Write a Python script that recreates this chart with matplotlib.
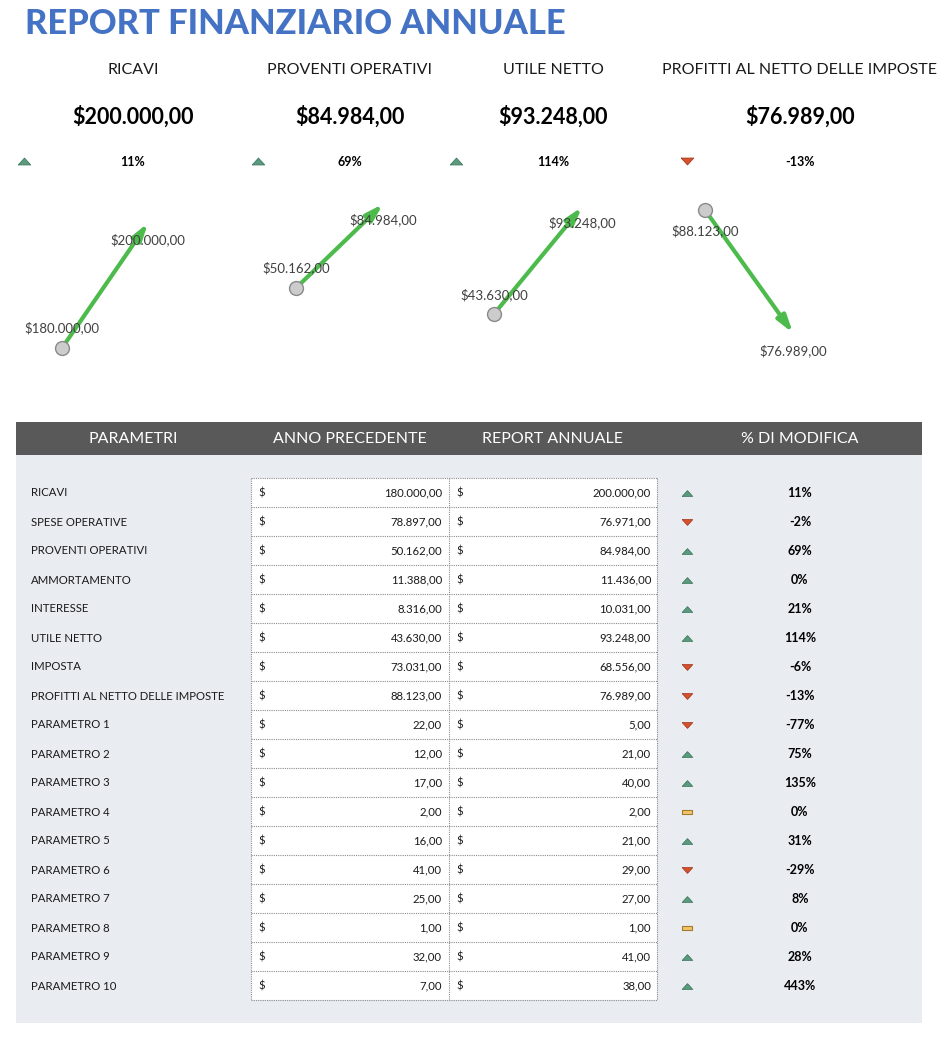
import numpy as np
import matplotlib.pyplot as plt
from matplotlib.patches import Rectangle

plt.rcParams['font.family'] = ['Lato', 'DejaVu Sans']

# ---- data ----
params = ['RICAVI', 'SPESE OPERATIVE', 'PROVENTI OPERATIVI', 'AMMORTAMENTO',
          'INTERESSE', 'UTILE NETTO', 'IMPOSTA', 'PROFITTI AL NETTO DELLE IMPOSTE',
          'PARAMETRO 1', 'PARAMETRO 2', 'PARAMETRO 3', 'PARAMETRO 4',
          'PARAMETRO 5', 'PARAMETRO 6', 'PARAMETRO 7', 'PARAMETRO 8',
          'PARAMETRO 9', 'PARAMETRO 10']
prev_year = [180000, 78897, 50162, 11388, 8316, 43630, 73031, 88123,
             22, 12, 17, 2, 16, 41, 25, 1, 32, 7]
this_year = [200000, 76971, 84984, 11436, 10031, 93248, 68556, 76989,
             5, 21, 40, 2, 21, 29, 27, 1, 41, 38]
kpi_rows = [0, 2, 5, 7]   # rows shown in the top summary
headers = ['PARAMETRI', 'ANNO PRECEDENTE', 'REPORT ANNUALE', '% DI MODIFICA']
title = 'REPORT FINANZIARIO ANNUALE'

W, H = 949, 1039
UP, DOWN, FLAT = '#5a9a7e', '#d8512d', '#f1c46b'
UP_M = [(-1, -0.55), (1, -0.55), (0, 0.55), (-1, -0.55)]
DOWN_M = [(-1, 0.55), (1, 0.55), (0, -0.55), (-1, 0.55)]
FLAT_M = [(-1, -0.45), (1, -0.45), (1, 0.45), (-1, 0.45), (-1, -0.45)]


def fmt(v):
    s = f'{v:,.2f}'
    return s.replace(',', 'X').replace('.', ',').replace('X', '.')


def change(p, c):
    return (c - p) / p


def box(x0, y0, x1, y1):
    return [x0 / W, 1 - y1 / H, (x1 - x0) / W, (y1 - y0) / H]


def icon(ax, x, y, p, c, size=8):
    if c > p:
        ax.plot(x, y, marker=UP_M, ms=size, mfc=UP, mec='#3f7a60', mew=0.6)
    elif c < p:
        ax.plot(x, y, marker=DOWN_M, ms=size, mfc=DOWN, mec='#a53a1d', mew=0.6)
    else:
        ax.plot(x, y, marker=FLAT_M, ms=size, mfc=FLAT, mec='#a67c2a', mew=0.8)


fig = plt.figure(figsize=(W / 100, H / 100), dpi=100)
bg = fig.add_axes([0, 0, 1, 1])
bg.set_xlim(0, W)
bg.set_ylim(H, 0)
bg.axis('off')

bg.text(25, 24, title, fontsize=24.8, fontweight='black', color='#4472c4',
        va='center', ha='left')

# ---- KPI summary ----
kpi_x = [133, 350, 553, 800]
icon_x = [24, 258, 456, 687]
for i, r in enumerate(kpi_rows):
    p, c = prev_year[r], this_year[r]
    bg.text(kpi_x[i], 70, params[r], fontsize=11.5, ha='center', va='center', color='#1a1a1a')
    bg.text(kpi_x[i], 117, '$' + fmt(c), fontsize=15.5, fontweight='bold',
            ha='center', va='center', color='black')
    icon(bg, icon_x[i], 161, p, c, size=9)
    bg.text(kpi_x[i], 162, f'{round(change(p, c) * 100)}%', fontsize=9,
            fontweight='bold', ha='center', va='center', color='black')

# mini trend charts
mini_x = [(62, 148), (296, 383), (494, 582), (705, 793)]
mini_ylim = [(176480, 206880), (16170, 94930), (17660, 105770), (73640, 90840)]
prev_off = [20, 20, 19, -21]
cur_off = [-17, -16, -16, -18]
for i, r in enumerate(kpi_rows):
    p, c = prev_year[r], this_year[r]
    ax = fig.add_axes(box(mini_x[i][0], 180, mini_x[i][1], 370))
    ax.set_xlim(0, 1)
    ax.set_ylim(*mini_ylim[i])
    ax.axis('off')
    ax.annotate('', xy=(1, c), xytext=(0, p), annotation_clip=False,
                arrowprops=dict(arrowstyle='-|>,head_length=1.0,head_width=0.3',
                                color='#4cbb4c', lw=3, shrinkA=0, shrinkB=0))
    ax.plot(0, p, 'o', ms=10, mfc='#cccccc', mec='#8a8a8a', mew=1, clip_on=False, zorder=5)
    ax.annotate('$' + fmt(p), (0, p), xytext=(0, prev_off[i]), textcoords='offset pixels',
                ha='center', va='center', fontsize=9.5, color='#404040', annotation_clip=False)
    ax.annotate('$' + fmt(c), (1, c), xytext=(0, cur_off[i]), textcoords='offset pixels',
                ha='center', va='center', fontsize=9.5, color='#404040', annotation_clip=False)

# ---- table ----
bg.add_patch(Rectangle((16, 455), 906, 568, fc='#e9ecf1', ec='none'))
bg.add_patch(Rectangle((16, 422), 906, 33, fc='#595959', ec='none'))
for x, h in zip(kpi_x, headers):
    bg.text(x, 439, h, fontsize=11.5, color='white', ha='center', va='center')

top, rh = 478, 29
n = len(params)
bg.add_patch(Rectangle((251, top), 406, rh * n, fc='white', ec='none'))
dot = dict(color='#8c8c8c', lw=0.8, ls=(0, (1, 1)))
for k in range(n + 1):
    bg.plot([251, 657], [top + k * rh, top + k * rh], **dot)
for x in [251, 449, 657]:
    bg.plot([x, x], [top, top + n * rh], **dot)

tk = dict(fontsize=8.2, va='baseline', color='#1a1a1a')
for k in range(n):
    y = top + k * rh + rh / 2
    yb = y + 4
    p, c = prev_year[k], this_year[k]
    bg.text(31, yb, params[k], ha='left', **tk)
    bg.text(258, yb, '$', ha='left', **tk)
    bg.text(442, yb, fmt(p), ha='right', **tk)
    bg.text(456, yb, '$', ha='left', **tk)
    bg.text(651, yb, fmt(c), ha='right', **tk)
    icon(bg, 687, y, p, c, size=7.5)
    bg.text(800, yb + 0.5, f'{round(change(p, c) * 100)}%', fontsize=9, fontweight='bold',
            ha='center', va='baseline', color='black')

fig.savefig('out.png', dpi=100)
